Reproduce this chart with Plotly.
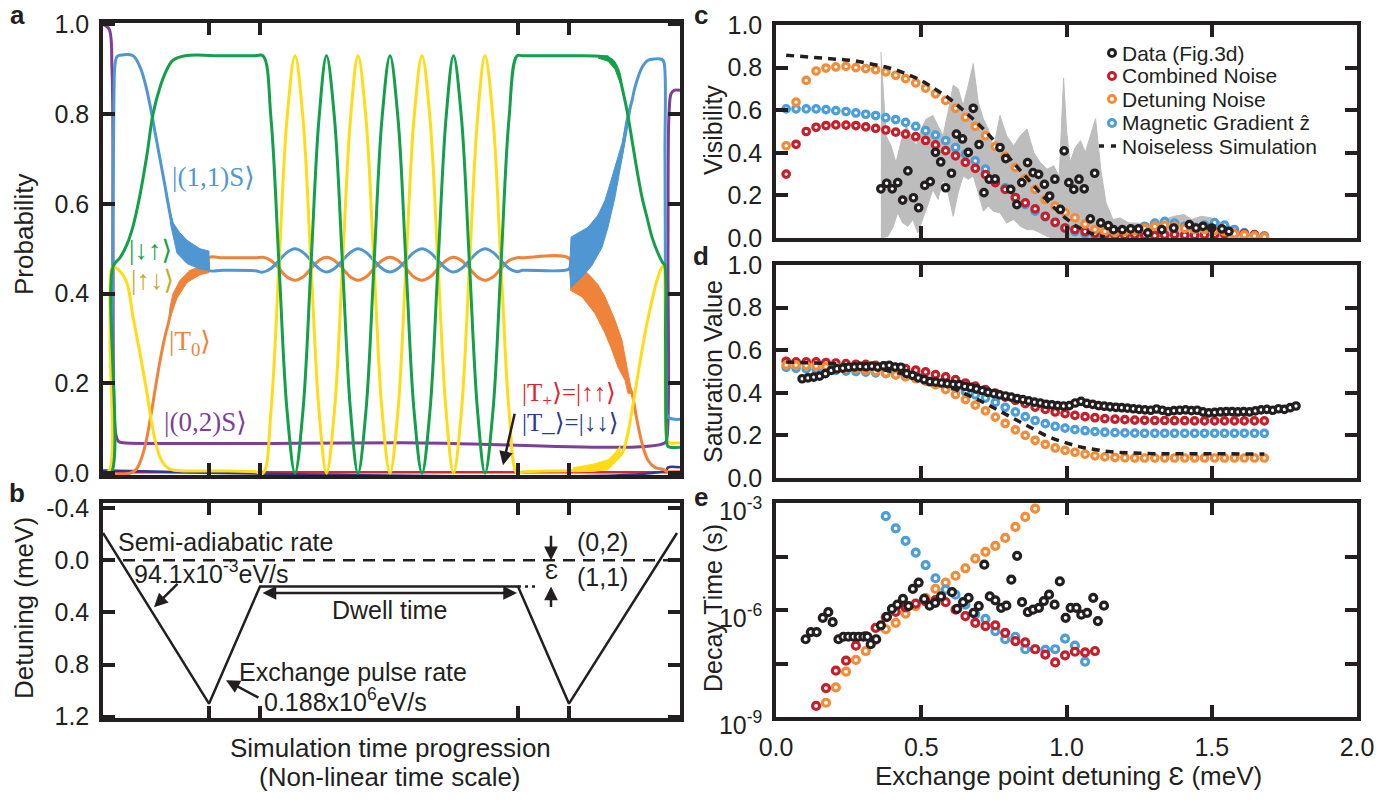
import plotly.graph_objects as go

# ------------------------------------------------------------------
# Panel a : state probabilities vs (non-linear) simulation time (a.u.)
# ------------------------------------------------------------------
OSC_T = [160, 168, 176, 184, 192, 200, 208, 216, 223.5, 231.5, 239.5, 247.5, 255, 263, 271, 279,
         287, 295, 303, 311, 319, 327, 335, 343, 350.5, 358.5, 366.5, 374.5, 382, 390, 398, 406, 414]
GREEN_OSC = [0.93, 0.79, 0.465, 0.14, 0.0, 0.14, 0.465, 0.79, 0.93, 0.79, 0.465, 0.14, 0.0, 0.14, 0.465, 0.79,
             0.93, 0.79, 0.465, 0.14, 0.0, 0.14, 0.465, 0.79, 0.93, 0.79, 0.465, 0.14, 0.0, 0.14, 0.465, 0.79, 0.93]
YELLOW_OSC = [0.0, 0.14, 0.465, 0.79, 0.93, 0.79, 0.465, 0.14, 0.0, 0.14, 0.465, 0.79, 0.93, 0.79, 0.465, 0.14,
              0.0, 0.14, 0.465, 0.79, 0.93, 0.79, 0.465, 0.14, 0.0, 0.14, 0.465, 0.79, 0.93, 0.79, 0.465, 0.14, 0.0]
BLUE_OSC = [0.448, 0.456, 0.474, 0.492, 0.500, 0.492, 0.474, 0.456, 0.448, 0.456, 0.474, 0.492, 0.500, 0.492, 0.474, 0.456,
            0.448, 0.456, 0.474, 0.492, 0.500, 0.492, 0.474, 0.456, 0.448, 0.456, 0.474, 0.492, 0.500, 0.492, 0.474, 0.456, 0.449]
ORANGE_OSC = [0.481, 0.474, 0.456, 0.437, 0.430, 0.437, 0.456, 0.474, 0.481, 0.474, 0.456, 0.437, 0.430, 0.437, 0.456, 0.474,
              0.481, 0.474, 0.456, 0.437, 0.430, 0.437, 0.456, 0.474, 0.481, 0.474, 0.456, 0.437, 0.430, 0.437, 0.456, 0.474, 0.480]

GREEN_T_LEFT = [0, 8, 10, 17, 24, 30, 37, 44, 50, 57, 64, 70, 82, 120, 152]
GREEN_P_LEFT = [0.0, 0.0, 0.46, 0.48, 0.51, 0.55, 0.62, 0.71, 0.80, 0.86, 0.90, 0.92, 0.93, 0.93, 0.93]
GREEN_T_RIGHT = [420, 460, 500, 509, 515, 519, 524, 529, 534, 539, 544, 549, 555, 560, 561.5, 562.5, 563.5, 565, 577]
GREEN_P_RIGHT = [0.93, 0.93, 0.928, 0.92, 0.898, 0.86, 0.808, 0.742, 0.675, 0.615, 0.57, 0.526, 0.49, 0.468, 0.465, 0.3, 0.08, 0.06, 0.058]

YELLOW_T_LEFT = [0, 6, 7, 8, 10, 17, 24, 30, 37, 44, 50, 57, 64, 70, 80, 120, 152]
YELLOW_P_LEFT = [0.0, 0.005, 0.3, 0.45, 0.46, 0.45, 0.423, 0.348, 0.267, 0.178, 0.096, 0.036, 0.013, 0.007, 0.005, 0.005, 0.003]
YELLOW_T_RIGHT = [420, 470, 490, 505, 512, 519, 524, 529, 534, 539, 544, 549, 554, 559, 561, 562, 563, 565, 577]
YELLOW_P_RIGHT = [0.003, 0.006, 0.01, 0.02, 0.03, 0.044, 0.08, 0.14, 0.207, 0.274, 0.334, 0.385, 0.43, 0.459, 0.462, 0.4, 0.1, 0.07, 0.068]

BLUE_T_LEFT = [0, 7, 9, 10, 11, 12, 14, 17, 30, 37, 42, 47, 52, 57, 62, 66, 70, 77, 84, 97, 105, 106, 120, 152]
BLUE_P_LEFT = [0.0, 0.0, 0.3, 0.6, 0.85, 0.91, 0.928, 0.931, 0.93, 0.905, 0.87, 0.82, 0.76, 0.70, 0.64, 0.59,
               0.55, 0.52, 0.50, 0.48, 0.47, 0.452, 0.452, 0.451]
BLUE_T_RIGHT = [420, 466, 468, 479, 489, 499, 505, 512, 519, 524, 529, 532, 539, 545, 552, 559, 561, 562, 563, 564, 567, 577]
BLUE_P_RIGHT = [0.452, 0.455, 0.47, 0.49, 0.51, 0.55, 0.58, 0.65, 0.715, 0.785, 0.83, 0.86, 0.904, 0.92, 0.923,
                0.922, 0.915, 0.7, 0.2, 0.13, 0.122, 0.12]

ORANGE_T_LEFT = [0, 27, 33, 38, 43, 48, 52, 57, 62, 66, 70, 77, 87, 97, 105, 106, 120, 152]
ORANGE_P_LEFT = [0.0, 0.0, 0.008, 0.03, 0.07, 0.13, 0.185, 0.25, 0.305, 0.34, 0.38, 0.41, 0.435, 0.447, 0.452, 0.48, 0.48, 0.48]
ORANGE_T_RIGHT = [420, 466, 468, 479, 492, 502, 509, 515, 522, 526, 529, 534, 539, 545, 552, 561, 564, 577]
ORANGE_P_RIGHT = [0.48, 0.479, 0.44, 0.415, 0.39, 0.35, 0.31, 0.27, 0.225, 0.195, 0.178, 0.118, 0.067, 0.029, 0.013, 0.008, 0.004, 0.004]

PURPLE_T = [0, 6, 9, 10, 11, 13, 16, 20, 300, 562, 564, 565, 566, 568, 571, 577]
PURPLE_P = [1.0, 0.99, 0.9, 0.5, 0.15, 0.085, 0.07, 0.068, 0.068, 0.068, 0.08, 0.5, 0.8, 0.845, 0.853, 0.853]
TPLUS_T = [0, 577]
TPLUS_P = [0.002, 0.002]
TMINUS_T = [0, 563, 565, 577]
TMINUS_P = [0.006, 0.006, 0.013, 0.013]

# fast-oscillation envelopes (filled bands)
BLUE_BAND_L_T = [66, 67, 70, 77, 84, 97, 106, 106, 97, 84, 74, 70, 67]
BLUE_BAND_L_P = [0.59, 0.585, 0.558, 0.535, 0.519, 0.50, 0.495, 0.452, 0.455, 0.467, 0.49, 0.53, 0.56]
ORANGE_BAND_L_T = [66, 67, 70, 77, 87, 97, 106, 106, 97, 84, 74, 67]
ORANGE_BAND_L_P = [0.34, 0.37, 0.40, 0.43, 0.452, 0.46, 0.463, 0.447, 0.442, 0.425, 0.39, 0.345]
BLUE_BAND_R_T = [467, 468, 475, 485, 495, 502, 507, 512, 519, 525, 529, 527, 524, 519, 512, 505, 499, 489, 479, 468, 467]
BLUE_BAND_R_P = [0.47, 0.526, 0.535, 0.548, 0.575, 0.608, 0.645, 0.682, 0.735, 0.802, 0.835, 0.80, 0.764, 0.697,
                 0.615, 0.548, 0.503, 0.463, 0.437, 0.414, 0.44]
ORANGE_BAND_R_T = [467, 485, 495, 502, 512, 519, 524, 529, 525, 522, 515, 509, 502, 492, 479, 467]
ORANGE_BAND_R_P = [0.467, 0.445, 0.42, 0.393, 0.341, 0.296, 0.236, 0.178, 0.178, 0.207, 0.236, 0.274, 0.312, 0.356, 0.393, 0.408]
YELLOW_BAND_R_T = [470, 490, 505, 512, 517, 517, 505, 490, 470]
YELLOW_BAND_R_P = [0.012, 0.02, 0.03, 0.045, 0.06, 0.035, 0.008, 0.004, 0.003]
GREEN_BAND_R_T = [495, 505, 512, 517, 517, 512, 505, 495]
GREEN_BAND_R_P = [0.93, 0.93, 0.915, 0.885, 0.87, 0.9, 0.918, 0.925]

TIME_TICKS = [106, 157, 415, 466]

# ------------------------------------------------------------------
# Panel b : detuning pulse
# ------------------------------------------------------------------
PULSE_T = [0, 106, 157, 415, 466, 574]
PULSE_DET = [-0.21, 1.1, 0.2, 0.2, 1.1, -0.21]
EPS_REF_T = [415, 433]
EPS_REF_DET = [0.2, 0.2]
DET_TICKS = [-0.4, 0.0, 0.4, 0.8, 1.2]
DET_TICK_TEXT = ['-0.4', '0.0', '0.4', '0.8', '1.2']

# ------------------------------------------------------------------
# Panels c-e : vs exchange point detuning (meV)
# ------------------------------------------------------------------
EPS_SIM = [0.035, 0.069, 0.104, 0.138, 0.172, 0.206, 0.241, 0.275, 0.309, 0.343,
           0.378, 0.412, 0.446, 0.481, 0.515, 0.549, 0.584, 0.618, 0.652, 0.686,
           0.721, 0.755, 0.789, 0.824, 0.858, 0.892, 0.927, 0.961, 0.995, 1.029,
           1.064, 1.098, 1.132, 1.167, 1.201, 1.235, 1.269, 1.304, 1.338, 1.372,
           1.407, 1.441, 1.475, 1.510, 1.544, 1.578, 1.612, 1.647, 1.681]

VIS_COMBINED = [0.30, 0.44, 0.50, 0.52, 0.528, 0.531, 0.53, 0.528, 0.522, 0.515,
                0.507, 0.497, 0.488, 0.476, 0.458, 0.437, 0.41, 0.386, 0.355, 0.327,
                0.298, 0.26, 0.228, 0.19, 0.165, 0.137, 0.102, 0.074, 0.047, 0.04,
                0.03, 0.022, 0.017, 0.014, 0.012, 0.015, 0.013, 0.011, 0.014, 0.016,
                0.013, 0.012, 0.015, 0.017, 0.02, 0.022, 0.02, 0.016, 0.006]
VIS_DETUNING = [0.433, 0.638, 0.74, 0.784, 0.798, 0.803, 0.806, 0.80, 0.795, 0.79,
                0.78, 0.764, 0.748, 0.728, 0.704, 0.677, 0.646, 0.609, 0.567, 0.524,
                0.48, 0.43, 0.383, 0.331, 0.279, 0.228, 0.181, 0.15, 0.12, 0.095,
                0.065, 0.04, 0.03, 0.025, 0.03, 0.035, 0.045, 0.055, 0.06, 0.055,
                0.045, 0.04, 0.04, 0.035, 0.03, 0.02, 0.015, 0.01, 0.005]
VIS_MAGNETIC = [0.606, 0.606, 0.606, 0.606, 0.603, 0.598, 0.594, 0.587, 0.581, 0.575,
                0.565, 0.556, 0.543, 0.524, 0.504, 0.483, 0.457, 0.425, 0.394, 0.362,
                0.323, 0.276, 0.236, 0.189, 0.157, 0.126, 0.099, 0.071, 0.047, 0.03,
                0.02, 0.012, 0.01, 0.015, 0.025, 0.04, 0.055, 0.07, 0.078, 0.07,
                0.055, 0.05, 0.06, 0.072, 0.06, 0.04, 0.025, 0.015, 0.01]
VIS_NOISELESS = [0.858, 0.855, 0.852, 0.849, 0.845, 0.841, 0.836, 0.831, 0.823, 0.814,
                 0.803, 0.79, 0.773, 0.752, 0.728, 0.7, 0.668, 0.632, 0.592, 0.549,
                 0.502, 0.452, 0.399, 0.343, 0.289, 0.235, 0.185, 0.138, 0.095, 0.06,
                 0.033, 0.015, 0.005]

DATA_C_EPS = [0.361, 0.381, 0.400, 0.419, 0.436, 0.454, 0.473, 0.491, 0.512, 0.531,
              0.549, 0.567, 0.584, 0.604, 0.621, 0.642, 0.662, 0.679, 0.699, 0.716,
              0.734, 0.754, 0.771, 0.791, 0.808, 0.829, 0.846, 0.866, 0.885, 0.904,
              0.924, 0.942, 0.960, 0.979, 0.992, 1.008, 1.025, 1.043, 1.061, 1.082,
              1.097, 1.118, 1.144, 1.162, 1.192, 1.221, 1.248, 1.280, 1.328, 1.369,
              1.423, 1.446, 1.470, 1.500, 1.535, 1.559]
DATA_C_VIS = [0.231, 0.257, 0.231, 0.26, 0.178, 0.315, 0.189, 0.142, 0.247, 0.265,
              0.402, 0.357, 0.236, 0.304, 0.488, 0.465, 0.402, 0.609, 0.439, 0.213,
              0.276, 0.276, 0.425, 0.373, 0.228, 0.157, 0.26, 0.354, 0.307, 0.299,
              0.252, 0.197, 0.276, 0.134, 0.409, 0.26, 0.228, 0.276, 0.231, 0.09,
              0.304, 0.071, 0.058, 0.039, 0.039, 0.043, 0.043, 0.024, 0.039, 0.047,
              0.063, 0.047, 0.055, 0.047, 0.043, 0.031]

ERR_UP_EPS = [0.361, 0.379, 0.396, 0.413, 0.43, 0.448, 0.465, 0.483, 0.5, 0.517,
              0.54, 0.558, 0.575, 0.592, 0.61, 0.627, 0.644, 0.662, 0.679, 0.696,
              0.714, 0.731, 0.748, 0.771, 0.794, 0.818, 0.841, 0.864, 0.887, 0.91,
              0.933, 0.956, 0.975, 0.99, 1.0, 1.012, 1.03, 1.048, 1.065, 1.082,
              1.1, 1.118, 1.136, 1.16, 1.185, 1.215, 1.255, 1.3, 1.335, 1.37,
              1.405, 1.43, 1.465, 1.5, 1.535, 1.56, 1.6, 1.65]
ERR_UP_VIS = [0.874, 0.48, 0.433, 0.354, 0.449, 0.528, 0.48, 0.433, 0.512, 0.559,
              0.575, 0.528, 0.48, 0.59, 0.717, 0.701, 0.622, 0.717, 0.819, 0.638,
              0.559, 0.512, 0.417, 0.575, 0.48, 0.433, 0.48, 0.512, 0.402, 0.354,
              0.323, 0.339, 0.29, 0.75, 0.51, 0.354, 0.425, 0.457, 0.402, 0.48,
              0.56, 0.323, 0.165, 0.087, 0.094, 0.071, 0.071, 0.068, 0.087, 0.102,
              0.11, 0.087, 0.102, 0.094, 0.071, 0.055, 0.03, 0.0]
ERR_LO_EPS = [0.361, 0.385, 0.402, 0.419, 0.436, 0.454, 0.471, 0.488, 0.506, 0.523,
              0.54, 0.558, 0.575, 0.592, 0.61, 0.627, 0.644, 0.662, 0.679, 0.696,
              0.714, 0.731, 0.748, 0.771, 0.794, 0.818, 0.841, 0.864, 0.887, 0.91,
              0.933, 0.95, 1.65]
ERR_LO_VIS = [0.0, 0.008, 0.047, 0.118, 0.071, 0.055, 0.087, 0.024, 0.087, 0.157,
              0.228, 0.181, 0.276, 0.213, 0.102, 0.213, 0.291, 0.276, 0.291, 0.213,
              0.126, 0.15, 0.126, 0.118, 0.071, 0.087, 0.055, 0.039, 0.039, 0.024,
              0.008, 0.0, 0.0]

SAT_COMBINED = [0.548, 0.545, 0.545, 0.545, 0.542, 0.54, 0.537, 0.534, 0.533, 0.529,
                0.525, 0.518, 0.514, 0.506, 0.498, 0.485, 0.475, 0.462, 0.446, 0.431,
                0.415, 0.399, 0.38, 0.365, 0.349, 0.333, 0.322, 0.31, 0.302, 0.294,
                0.288, 0.283, 0.279, 0.276, 0.274, 0.272, 0.271, 0.27, 0.27, 0.269,
                0.269, 0.268, 0.268, 0.268, 0.268, 0.268, 0.268, 0.268, 0.268]
SAT_DETUNING = [0.53, 0.53, 0.528, 0.526, 0.523, 0.52, 0.516, 0.512, 0.506, 0.5,
                0.492, 0.484, 0.475, 0.466, 0.455, 0.437, 0.415, 0.392, 0.368, 0.342,
                0.315, 0.286, 0.256, 0.226, 0.2, 0.177, 0.158, 0.141, 0.13, 0.121,
                0.112, 0.104, 0.099, 0.096, 0.095, 0.094, 0.094, 0.094, 0.094, 0.094,
                0.094, 0.094, 0.094, 0.094, 0.094, 0.094, 0.094, 0.094, 0.094]
SAT_MAGNETIC = [0.52, 0.515, 0.512, 0.51, 0.507, 0.505, 0.502, 0.5, 0.497, 0.494,
                0.49, 0.485, 0.478, 0.47, 0.46, 0.448, 0.435, 0.42, 0.405, 0.39,
                0.375, 0.355, 0.332, 0.31, 0.288, 0.27, 0.255, 0.243, 0.234, 0.227,
                0.222, 0.218, 0.215, 0.213, 0.212, 0.211, 0.21, 0.21, 0.21, 0.21,
                0.21, 0.21, 0.21, 0.21, 0.21, 0.21, 0.21, 0.21, 0.21]
SAT_NOISELESS = [0.545, 0.544, 0.543, 0.541, 0.539, 0.536, 0.532, 0.527, 0.521, 0.514,
                 0.506, 0.497, 0.487, 0.476, 0.464, 0.45, 0.434, 0.416, 0.396, 0.374,
                 0.35, 0.325, 0.298, 0.272, 0.246, 0.222, 0.2, 0.181, 0.165, 0.152,
                 0.141, 0.132, 0.126, 0.121, 0.118, 0.116, 0.115, 0.114, 0.114, 0.113,
                 0.113, 0.113, 0.113, 0.113, 0.113, 0.113, 0.113, 0.113, 0.113]
DATA_D_EPS = [0.09, 0.11, 0.13, 0.15, 0.17, 0.19, 0.21, 0.23, 0.25, 0.27,
              0.29, 0.31, 0.33, 0.35, 0.37, 0.39, 0.41, 0.43, 0.45, 0.47,
              0.49, 0.51, 0.53, 0.55, 0.57, 0.59, 0.61, 0.63, 0.65, 0.67,
              0.69, 0.71, 0.73, 0.75, 0.77, 0.79, 0.81, 0.83, 0.85, 0.87,
              0.89, 0.91, 0.93, 0.95, 0.97, 0.99, 1.01, 1.03, 1.05, 1.07,
              1.09, 1.11, 1.13, 1.15, 1.17, 1.19, 1.21, 1.23, 1.25, 1.27,
              1.29, 1.31, 1.33, 1.35, 1.37, 1.39, 1.41, 1.43, 1.45, 1.47,
              1.49, 1.51, 1.53, 1.55, 1.57, 1.59, 1.61, 1.63, 1.65, 1.67,
              1.69, 1.71, 1.73, 1.75, 1.77, 1.79]
DATA_D_SAT = [0.466, 0.47, 0.474, 0.478, 0.49, 0.505, 0.513, 0.516, 0.52, 0.522,
              0.524, 0.522, 0.525, 0.521, 0.526, 0.529, 0.521, 0.52, 0.49, 0.482,
              0.47, 0.462, 0.452, 0.45, 0.446, 0.443, 0.44, 0.438, 0.43, 0.425,
              0.418, 0.41, 0.402, 0.396, 0.39, 0.385, 0.38, 0.373, 0.368, 0.362,
              0.356, 0.352, 0.346, 0.343, 0.34, 0.338, 0.34, 0.352, 0.36, 0.35,
              0.346, 0.34, 0.337, 0.334, 0.332, 0.33, 0.328, 0.325, 0.322, 0.32,
              0.318, 0.324, 0.318, 0.312, 0.316, 0.318, 0.32, 0.316, 0.318, 0.31,
              0.306, 0.308, 0.31, 0.312, 0.312, 0.31, 0.312, 0.31, 0.315, 0.32,
              0.322, 0.318, 0.325, 0.322, 0.33, 0.338]

# decay times: log10(seconds)
LOG_DECAY_DETUNING = [-8.60, -8.17, -7.73, -7.40, -7.15, -6.84, -6.54, -6.36, -6.10, -5.89,
                      -5.66, -5.41, -5.23, -5.04, -4.83, -4.56, -4.37, -4.20, -3.98, -3.67,
                      -3.39, -3.16]                      # EPS_SIM[4:26]
LOG_DECAY_MAGNETIC = [-3.37, -3.71, -4.06, -4.39, -4.74, -5.11, -5.43, -5.57, -5.85, -6.12,
                      -6.25, -6.59, -6.82, -6.75, -7.10, -7.10, -7.12, -7.10, -6.80, -7.00,
                      -7.45]                             # EPS_SIM[10:31]
LOG_DECAY_COMBINED = [-8.69, -8.19, -7.70, -7.42, -7.00, -6.73, -6.50, -6.20, -6.05, -5.93,
                      -5.82, -5.76, -5.72, -5.78, -5.99, -6.17, -6.36, -6.45, -6.43, -6.64,
                      -6.87, -6.91, -7.10, -7.25, -7.47, -7.27, -7.17, -7.19, -7.15]   # EPS_SIM[3:32]
DATA_E_EPS = [0.102, 0.12, 0.14, 0.161, 0.18, 0.195, 0.215, 0.232, 0.249, 0.267,
              0.284, 0.301, 0.315, 0.326, 0.345, 0.361, 0.382, 0.399, 0.418, 0.437,
              0.456, 0.471, 0.491, 0.51, 0.529, 0.548, 0.568, 0.606, 0.623, 0.644,
              0.663, 0.68, 0.698, 0.717, 0.736, 0.755, 0.775, 0.793, 0.81, 0.83,
              0.847, 0.867, 0.885, 0.905, 0.922, 0.94, 0.959, 0.977, 0.997, 1.014,
              1.034, 1.051, 1.071, 1.092, 1.108, 1.129]
DATA_E_LOG = [-6.82, -6.62, -6.62, -6.22, -6.06, -6.34, -6.82, -6.75, -6.75, -6.75,
              -6.75, -6.75, -6.75, -6.96, -6.82, -6.43, -6.19, -5.97, -5.85, -5.69,
              -5.89, -5.41, -5.23, -5.69, -5.88, -5.80, -5.62, -5.50, -5.97, -5.78,
              -5.66, -6.08, -5.89, -4.73, -5.62, -5.73, -5.94, -5.88, -5.15, -4.48,
              -5.78, -6.06, -5.99, -5.94, -5.75, -5.57, -5.85, -5.20, -6.22, -5.94,
              -5.94, -6.13, -6.08, -5.66, -6.31, -5.88]
DECAY_TICKS_LOG = [-9, -7.5, -6, -4.5, -3]
DECAY_TICK_TEXT = ['10<sup>-9</sup>', '', '10<sup>-6</sup>', '', '10<sup>-3</sup>']
EPS_TICKS = [0.0, 0.5, 1.0, 1.5, 2.0]
EPS_TICK_TEXT = ['0.0', '0.5', '1.0', '1.5', '2.0']

LEGEND_NAMES = ['Data (Fig.3d)', 'Combined Noise', 'Detuning Noise', 'Magnetic Gradient ẑ', 'Noiseless Simulation']

# ------------------------------------------------------------------
W, H = 1393, 802
INK = '#231F20'
SANS = 'Arial, "Liberation Sans", Helvetica, sans-serif'
SERIF = '"Times New Roman", "Liberation Serif", "DejaVu Serif", serif'

A_BLUE, A_GREEN, A_YELLOW = '#4F97D2', '#13A04A', '#FFDC16'
A_ORANGE, A_PURPLE, A_RED, A_NAVY = '#F0833A', '#7D3F97', '#E0242B', '#2B3990'
C_RED, C_ORANGE, C_BLUE, C_GREY = '#C4202B', '#F28C38', '#4A9ED9', '#BDBDBD'


def fx(p):
    return p / W


def fy(p):
    return 1 - p / H


fig = go.Figure()


def curve(t, p, color, width=3.0):
    fig.add_trace(go.Scatter(x=t, y=p, mode='lines', line=dict(color=color, width=width, shape='spline'),
                             xaxis='x', yaxis='y', showlegend=False, hoverinfo='skip'))


def band(t, p, color, xa='x', ya='y'):
    fig.add_trace(go.Scatter(x=t, y=p, mode='lines', fill='toself', fillcolor=color,
                             line=dict(color=color, width=1), xaxis=xa, yaxis=ya,
                             showlegend=False, hoverinfo='skip'))


# ---- panel a
curve(PURPLE_T, PURPLE_P, A_PURPLE)
curve(TPLUS_T, TPLUS_P, A_RED, 2.5)
curve(TMINUS_T, TMINUS_P, A_NAVY, 2.5)
band(ORANGE_BAND_L_T, ORANGE_BAND_L_P, A_ORANGE)
band(ORANGE_BAND_R_T, ORANGE_BAND_R_P, A_ORANGE)
curve(ORANGE_T_LEFT + OSC_T + ORANGE_T_RIGHT, ORANGE_P_LEFT + ORANGE_OSC + ORANGE_P_RIGHT, A_ORANGE)
band(BLUE_BAND_L_T, BLUE_BAND_L_P, A_BLUE)
band(BLUE_BAND_R_T, BLUE_BAND_R_P, A_BLUE)
curve(BLUE_T_LEFT + OSC_T + BLUE_T_RIGHT, BLUE_P_LEFT + BLUE_OSC + BLUE_P_RIGHT, A_BLUE)
band(YELLOW_BAND_R_T, YELLOW_BAND_R_P, A_YELLOW)
curve(YELLOW_T_LEFT + OSC_T + YELLOW_T_RIGHT, YELLOW_P_LEFT + YELLOW_OSC + YELLOW_P_RIGHT, A_YELLOW)
band(GREEN_BAND_R_T, GREEN_BAND_R_P, A_GREEN)
curve(GREEN_T_LEFT + OSC_T + GREEN_T_RIGHT, GREEN_P_LEFT + GREEN_OSC + GREEN_P_RIGHT, A_GREEN)

# ---- panel b
fig.add_trace(go.Scatter(x=PULSE_T, y=PULSE_DET, mode='lines', line=dict(color=INK, width=2.5),
                         xaxis='x2', yaxis='y2', showlegend=False, hoverinfo='skip'))
fig.add_trace(go.Scatter(x=EPS_REF_T, y=EPS_REF_DET, mode='lines', line=dict(color=INK, width=2.5, dash='3px,4px'),
                         xaxis='x2', yaxis='y2', showlegend=False, hoverinfo='skip'))


# ---- panels c-e
def markers(x, y, color, xa, ya, size=6.5, lw=3.2):
    fig.add_trace(go.Scatter(x=x, y=y, mode='markers',
                             marker=dict(symbol='circle', size=size, color='white',
                                         line=dict(color=color, width=lw)),
                             xaxis=xa, yaxis=ya, showlegend=False, hoverinfo='skip'))


def dashed(x, y, xa, ya):
    fig.add_trace(go.Scatter(x=x, y=y, mode='lines', line=dict(color=INK, width=3.5, dash='8px,6px'),
                             xaxis=xa, yaxis=ya, showlegend=False, hoverinfo='skip'))


band(ERR_UP_EPS + ERR_LO_EPS[::-1], ERR_UP_VIS + ERR_LO_VIS[::-1], C_GREY, 'x3', 'y3')
markers(EPS_SIM, VIS_MAGNETIC, C_BLUE, 'x3', 'y3')
markers(EPS_SIM, VIS_COMBINED, C_RED, 'x3', 'y3')
markers(EPS_SIM, VIS_DETUNING, C_ORANGE, 'x3', 'y3')
dashed(EPS_SIM[:len(VIS_NOISELESS)], VIS_NOISELESS, 'x3', 'y3')
markers(DATA_C_EPS, DATA_C_VIS, INK, 'x3', 'y3')

markers(EPS_SIM, SAT_MAGNETIC, C_BLUE, 'x4', 'y4')
markers(EPS_SIM, SAT_COMBINED, C_RED, 'x4', 'y4')
markers(EPS_SIM, SAT_DETUNING, C_ORANGE, 'x4', 'y4')
dashed(EPS_SIM, SAT_NOISELESS, 'x4', 'y4')
markers(DATA_D_EPS, DATA_D_SAT, INK, 'x4', 'y4')

markers(EPS_SIM[4:26], [10 ** v for v in LOG_DECAY_DETUNING], C_ORANGE, 'x5', 'y5', 7, 3.2)
markers(EPS_SIM[10:31], [10 ** v for v in LOG_DECAY_MAGNETIC], C_BLUE, 'x5', 'y5', 7, 3.2)
markers(EPS_SIM[3:32], [10 ** v for v in LOG_DECAY_COMBINED], C_RED, 'x5', 'y5', 7, 3.2)
markers(DATA_E_EPS, [10 ** v for v in DATA_E_LOG], INK, 'x5', 'y5', 7, 3.2)


# ---- axes
def axis(**kw):
    d = dict(showline=True, linewidth=3.5, linecolor=INK, mirror='ticks', ticks='inside',
             ticklen=12, tickwidth=3.5, tickcolor=INK, showgrid=False, zeroline=False,
             automargin=False, tickfont=dict(family=SANS, size=25, color=INK), ticklabelstandoff=5)
    d.update(kw)
    return d


XL = [fx(103), fx(680)]
XR = [fx(776), fx(1357)]
fig.update_layout(
    template='none',
    width=W, height=H, margin=dict(l=0, r=0, t=0, b=0, pad=0, autoexpand=False),
    paper_bgcolor='white', plot_bgcolor='white', showlegend=False,
    xaxis=axis(domain=XL, anchor='y', range=[0, 577], tickvals=TIME_TICKS, showticklabels=False),
    yaxis=axis(domain=[fy(475), fy(23)], anchor='x', range=[-0.004, 1.003],
               tickvals=[0, 0.2, 0.4, 0.6, 0.8, 1.0], tickformat='.1f'),
    xaxis2=axis(domain=XL, anchor='y2', range=[0, 577], tickvals=TIME_TICKS, showticklabels=False),
    yaxis2=axis(domain=[fy(718), fy(503)], anchor='x2', range=[1.21, -0.44],
                tickvals=DET_TICKS, ticktext=DET_TICK_TEXT),
    xaxis3=axis(domain=XR, anchor='y3', range=[0, 2], tickvals=[0.5, 1.0, 1.5], showticklabels=False),
    yaxis3=axis(domain=[fy(238), fy(25)], anchor='x3', range=[0, 1],
                tickvals=[0, 0.2, 0.4, 0.6, 0.8, 1.0], tickformat='.1f'),
    xaxis4=axis(domain=XR, anchor='y4', range=[0, 2], tickvals=[0.5, 1.0, 1.5], showticklabels=False),
    yaxis4=axis(domain=[fy(478), fy(265)], anchor='x4', range=[0, 1],
                tickvals=[0, 0.2, 0.4, 0.6, 0.8, 1.0], tickformat='.1f'),
    xaxis5=axis(domain=XR, anchor='y5', range=[0, 2], tickvals=EPS_TICKS, ticktext=EPS_TICK_TEXT),
    yaxis5=axis(domain=[fy(717), fy(503)], anchor='x5', type='log', range=[-9, -3],
                tickvals=[10 ** v for v in DECAY_TICKS_LOG], ticktext=DECAY_TICK_TEXT,
                ticklabelshift=8),
)

ann = []
shapes = []


def ptext(x, y, text, size=25, angle=0, bold=False, xanchor='center', color=INK, family=SANS):
    ann.append(dict(x=fx(x), y=fy(y), xref='paper', yref='paper', text=('<b>%s</b>' % text) if bold else text,
                    showarrow=False, textangle=angle, xanchor=xanchor, yanchor='middle',
                    font=dict(family=family, size=size, color=color)))


# panel letters
for lt, (lx, ly) in zip('abcde', [(17, 15), (17, 493), (701, 15), (701, 256), (701, 497)]):
    ptext(lx, ly, lt, 26, bold=True)

# axis titles
ptext(24, 235, 'Probability', 26, angle=-90)
ptext(24, 608, 'Detuning (meV)', 26, angle=-90)
ptext(390, 748, 'Simulation time progression', 26)
ptext(390, 777, '(Non-linear time scale)', 26)
ptext(713, 130, 'Visibility', angle=-90)
ptext(713, 372, 'Saturation Value', angle=-90)
ptext(713, 608, 'Decay Time (s)', angle=-90)
ptext(1068, 776, 'Exchange point detuning Ɛ (meV)', 26)


# panel a state labels (data coordinates)
def dtext(x, y, text, color, size=27, xa='x', ya='y', family=SERIF, xanchor='center'):
    ann.append(dict(x=x, y=y, xref=xa, yref=ya, text=text, showarrow=False, xanchor=xanchor,
                    yanchor='middle', font=dict(family=family, size=size, color=color)))


dtext(110, 0.659, '|(1,1)S⟩', A_BLUE)
dtext(47, 0.497, '|↓↑⟩', A_GREEN)
dtext(49, 0.43, '|↑↓⟩', '#BFAE2E')
dtext(87, 0.29, '|T<sub>0</sub>⟩', A_ORANGE)
dtext(102, 0.114, '|(0,2)S⟩', A_PURPLE)
dtext(466, 0.175, '|T<sub>+</sub>⟩=|↑↑⟩', A_RED, 25)
dtext(467, 0.112, '|T_⟩=|↓↓⟩', A_NAVY, 25)


def arrow(x, y, ax, ay, xa, ya, side='end', head=2):
    ann.append(dict(x=x, y=y, ax=ax, ay=ay, xref=xa, yref=ya, axref=xa, ayref=ya, text='',
                    showarrow=True, arrowhead=head, arrowsize=1.1, arrowwidth=2.5, arrowcolor=INK,
                    arrowside=side, startarrowhead=head, startarrowsize=1.1))


arrow(400, 0.018, 412, 0.136, 'x', 'y')

# panel b annotations
BT = 25
dtext(13, -0.14, 'Semi-adiabatic rate', INK, BT, 'x2', 'y2', SANS, 'left')
dtext(29, 0.09, '94.1x10<sup>-3</sup>eV/s', INK, BT, 'x2', 'y2', SANS, 'left')
arrow(51, 0.36, 76, 0.17, 'x2', 'y2')
dtext(286, 0.38, 'Dwell time', INK, BT, 'x2', 'y2', SANS)
arrow(414, 0.25, 158, 0.25, 'x2', 'y2', side='end+start')
dtext(134, 0.86, 'Exchange pulse rate', INK, BT, 'x2', 'y2', SANS, 'left')
dtext(159, 1.07, '0.188x10<sup>6</sup>eV/s', INK, BT, 'x2', 'y2', SANS, 'left')
arrow(123, 0.92, 157, 1.06, 'x2', 'y2')
arrow(448, 0.0, 448, -0.2, 'x2', 'y2')
arrow(448, 0.2, 448, 0.37, 'x2', 'y2')
dtext(448, 0.085, 'Ɛ', INK, 22, 'x2', 'y2', SANS)
dtext(472, -0.14, '(0,2)', INK, BT, 'x2', 'y2', SANS, 'left')
dtext(472, 0.13, '(1,1)', INK, BT, 'x2', 'y2', SANS, 'left')
shapes.append(dict(type='line', xref='x2 domain', yref='y2', x0=0, x1=1, y0=0, y1=0,
                   line=dict(color=INK, width=2.5, dash='12px,8px')))

# panel c legend (drawn manually)
LEG_ROWS = [53, 76, 99, 123, 146]
LEG_COLORS = [INK, C_RED, C_ORANGE, C_BLUE, None]
for row, name, col in zip(LEG_ROWS, LEGEND_NAMES, LEG_COLORS):
    if col is not None:
        shapes.append(dict(type='circle', xref='paper', yref='paper', x0=fx(1108.5), x1=fx(1115.5),
                           y0=fy(row + 3.5), y1=fy(row - 3.5), fillcolor='white',
                           line=dict(color=col, width=3)))
    else:
        shapes.append(dict(type='line', xref='paper', yref='paper', x0=fx(1099), x1=fx(1118),
                           y0=fy(row), y1=fy(row), line=dict(color=INK, width=3.5, dash='5px,7px')))
    ptext(1120, row, name, 21, xanchor='left')

fig.update_layout(annotations=ann, shapes=shapes)
fig.write_html('out.html', config={'displayModeBar': False},
               post_script="document.body.style.margin='0px';")
